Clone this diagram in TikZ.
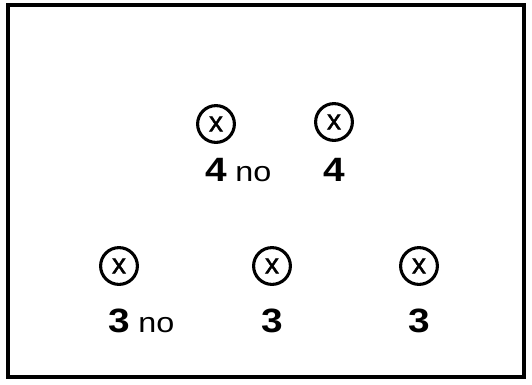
\documentclass[tikz,border=0pt]{standalone}
\usepackage{fontspec}
\usepackage{tikz}
\usetikzlibrary{positioning}
\newfontfamily\labfont[FakeStretch=1.15]{Liberation Sans}
\newfontfamily\crossface[FakeBold=1.5]{Liberation Sans}
\newcommand{\numfont}{\labfont\bfseries\fontsize{24}{28}\selectfont}
\newcommand{\notefont}{\labfont\fontsize{20}{24}\selectfont}
\newcommand{\crossfont}{\crossface\fontsize{20}{22}\selectfont}

\begin{document}
\begin{tikzpicture}[
    frame/.style={draw, line width=2.8pt},
    cross/.style={circle, draw, line width=2.2pt, minimum size=0.92cm, inner sep=0pt, font=\crossfont},
    num/.style={font=\numfont, inner sep=0pt, anchor=base},
    note/.style={font=\notefont, inner sep=0pt, anchor=base west},
]
    \useasboundingbox (0,0) rectangle (13.3,-9.6);
    % Frame
    \node[frame, minimum width=12.9cm, minimum height=9.3cm, inner sep=0pt] (box) at (6.65,-4.775) {};

    % Upper row
    \node[cross] (a1) at (5.4,-3.1) {x};
    \node[cross] (a2) at (8.35,-3.05) {x};
    \node[num] (d1) at (5.4,-4.525) {4};
    \node[note, xshift=0.2cm] at (d1.base east) {no};
    \node[num] (d2) at (8.35,-4.525) {4};

    % Lower row
    \node[cross] (b1) at (2.975,-6.65) {x};
    \node[cross] (b2) at (6.8,-6.65) {x};
    \node[cross] (b3) at (10.475,-6.65) {x};
    \node[num] (e1) at (2.975,-8.3) {3};
    \node[note, xshift=0.2cm] at (e1.base east) {no};
    \node[num] (e2) at (6.8,-8.3) {3};
    \node[num] (e3) at (10.475,-8.3) {3};
\end{tikzpicture}
\end{document}
